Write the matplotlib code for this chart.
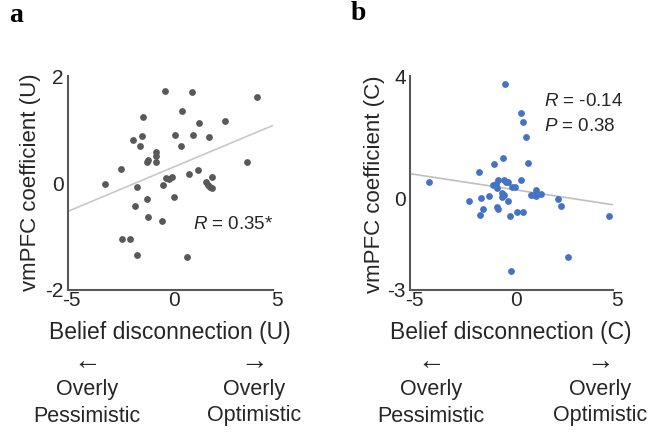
import matplotlib
matplotlib.use("Agg")
import matplotlib.pyplot as plt
from matplotlib.transforms import ScaledTranslation

plt.rcParams["font.family"] = ["Liberation Sans", "DejaVu Sans"]
plt.rcParams["mathtext.fontset"] = "custom"
plt.rcParams["mathtext.it"] = "Liberation Sans:italic"
plt.rcParams["mathtext.rm"] = "Liberation Sans"

# panel a: unconditioned
belief_a = [-3.18, -2.38, -1.81, -1.46, -1.36, -1.31, -1.63, -1.70, -2.33, -1.96,
            -1.63, -1.13, -1.10, -1.13, -1.10, -0.69, -0.69, -0.69, -0.37, -0.38,
            -0.27, -0.20, -0.04, 0.09, 0.17, 0.22, 0.53, 0.59, 0.84, 0.90,
            1.05, 1.10, 1.37, 1.41, 1.73, 1.85, 1.94, 2.06, 1.89, 2.04,
            2.66, 3.76, 4.25]
vmpfc_a = [-0.01, 0.26, 0.81, 0.70, 0.89, 1.24, -0.07, -0.43, -1.05, -1.04,
           -1.35, 0.40, 0.43, -0.29, -0.64, 0.59, 0.51, 0.39, -0.04, -0.70,
           1.73, 0.09, 0.07, 0.11, -0.26, 0.91, 0.70, 1.36, -1.39, 0.17,
           1.71, 0.91, 0.24, 1.13, 0.02, -0.03, -0.07, -0.10, 0.87, 0.12,
           1.16, 0.40, 1.61]
fit_x_a = [-5, 5]
fit_y_a = [-0.53, 1.08]

# panel b: conditioned
belief_b = [-4.05, -2.08, -1.62, -1.56, -1.51, -1.43, -1.13, -0.87, -0.92, -0.79,
            -0.69, -0.74, -0.72, -0.69, -0.48, -0.44, -0.46, -0.39, -0.36, -0.34,
            -0.28, -0.16, -0.18, -0.07, -0.05, 0.02, 0.15, 0.26, 0.46, 0.46,
            0.54, 0.57, 0.69, 0.82, 0.95, 1.08, 1.18, 1.18, 1.43, 2.30,
            2.43, 2.77, 4.80]
vmpfc_b = [0.53, -0.07, 0.88, -0.55, 0.00, -0.35, 0.07, 1.13, 0.45, 0.48,
           0.61, 0.35, -0.27, -0.34, 0.17, 1.34, 0.03, 0.11, 0.61, 3.74,
           0.55, 0.54, -0.10, -0.57, -2.38, 0.39, 0.39, -0.46, 0.60, 2.80,
           2.49, -0.46, 2.02, 1.17, 0.12, 0.11, 0.28, 0.09, 0.16, -0.01,
           -0.24, -1.91, -0.57]
fit_x_b = [-5, 5]
fit_y_b = [0.81, -0.21]

text_col = "#262626"
axis_col = "#595959"

fig = plt.figure(figsize=(6.55, 4.34), dpi=100)


def setup_axes(ax, ylim, yticks):
    ax.set_xlim(-5, 5)
    ax.set_ylim(*ylim)
    ax.set_xticks([-5, 0, 5])
    ax.set_yticks(yticks)
    ax.set_xticklabels(["-5", "0", "5"])
    ax.set_yticklabels([str(t) for t in yticks])
    for s in ["top", "right"]:
        ax.spines[s].set_visible(False)
    for s in ["left", "bottom"]:
        ax.spines[s].set_color(axis_col)
        ax.spines[s].set_linewidth(1.5)
    ax.tick_params(length=0, labelsize=15, colors=text_col)
    ax.tick_params(axis="x", pad=1)
    ax.tick_params(axis="y", pad=3)
    # labels sit a little right of the ticks in the original
    shift = ScaledTranslation(4 / 100, 0, fig.dpi_scale_trans)
    for lab in ax.get_xticklabels():
        lab.set_transform(lab.get_transform() + shift)
    ax.patch.set_alpha(0)


ax_a = fig.add_axes([0.1034, 0.332, 0.313, 0.492])
ax_a.plot(fit_x_a, fit_y_a, color="#c8c8c8", lw=1.2, zorder=1)
ax_a.scatter(belief_a, vmpfc_a, s=24, color="#595959", zorder=2, linewidths=0)
setup_axes(ax_a, (-2, 2), [-2, 0, 2])
ax_a.text(1.1, -0.78, "$R$ = 0.35*", fontsize=13.5, color=text_col, va="center")

ax_b = fig.add_axes([0.626, 0.332, 0.3104, 0.492])
ax_b.plot(fit_x_b, fit_y_b, color="#bfbfbf", lw=1.2, zorder=1)
ax_b.scatter(belief_b, vmpfc_b, s=24, color="#4472c4", zorder=2, linewidths=0)
setup_axes(ax_b, (-3, 4), [-3, 0, 4])
ax_b.text(1.6, 3.18, "$R$ = -0.14", fontsize=13.5, color=text_col, va="center")
ax_b.text(1.6, 2.36, "$P$ = 0.38", fontsize=13.5, color=text_col, va="center")


def fx(px):
    return px / 655.0


def fy(py):
    return 1 - py / 434.0


# y labels
fig.text(fx(31), fy(182), "vmPFC coefficient (U)", rotation=90, fontsize=16,
         color=text_col, ha="center", va="center")
fig.text(fx(375), fy(184), "vmPFC coefficient (C)", rotation=90, fontsize=16,
         color=text_col, ha="center", va="center")

# x labels and direction notes
for cx, lbl, left_x, right_x in [(170, "Belief disconnection (U)", 87, 254),
                                 (511, "Belief disconnection (C)", 431, 600)]:
    fig.text(fx(cx), fy(333), lbl, fontsize=16.5, color=text_col, ha="center", va="center")
    fig.text(fx(left_x), fy(362), "\u2190", fontsize=20, color=text_col, ha="center", va="center")
    fig.text(fx(right_x), fy(362), "\u2192", fontsize=20, color=text_col, ha="center", va="center")
    fig.text(fx(left_x), fy(390), "Overly", fontsize=15.5, color=text_col, ha="center", va="center")
    fig.text(fx(left_x), fy(416), "Pessimistic", fontsize=15.5, color=text_col, ha="center", va="center")
    fig.text(fx(right_x), fy(390), "Overly", fontsize=15.5, color=text_col, ha="center", va="center")
    fig.text(fx(right_x), fy(416), "Optimistic", fontsize=15.5, color=text_col, ha="center", va="center")

# panel letters
fig.text(fx(9), fy(16), "a", fontsize=20, fontweight="bold", family="Liberation Serif",
         ha="left", va="center")
fig.text(fx(351), fy(14), "b", fontsize=20, fontweight="bold", family="Liberation Serif",
         ha="left", va="center")

fig.savefig("out.png", dpi=100)
